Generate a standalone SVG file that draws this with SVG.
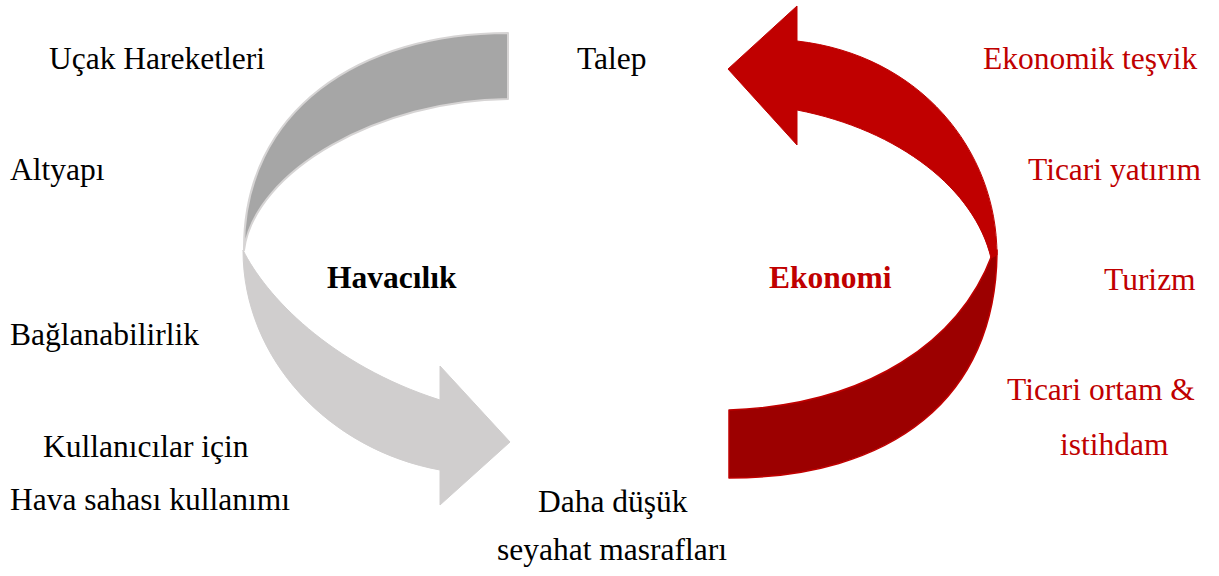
<svg xmlns="http://www.w3.org/2000/svg" width="1219" height="576" viewBox="0 0 1219 576">
  <style>
    text { font-family: "Liberation Serif", "Times New Roman", serif; font-size: 31.5px; }
    .dark { fill: #000000; }
    .red { fill: #c00000; }
    .title { font-weight: bold; }
    .gray-top { fill: #a6a6a6; stroke: #d6d4d4; stroke-width: 2; stroke-linejoin: round; }
    .gray-bottom { fill: #d0cece; stroke: #d0cece; stroke-width: 1; }
    .red-top { fill: #c00000; stroke: #c00000; stroke-width: 1; }
    .red-bottom { fill: #9c0000; stroke: #c00000; stroke-width: 1.5; stroke-linejoin: round; }
  </style>
  <rect width="1219" height="576" fill="#ffffff"/>

  <!-- Circular ribbon arrows of the cycle -->
  <g id="connectors">
    <!-- Aviation loop: lower band with arrowhead pointing right -->
    <path class="gray-bottom" d="M243,250 C265,295 330,365 440,400 L440,366 L510,442 L440,505 L440,470 C330,450 243,360 243,250 Z"/>
    <!-- Aviation loop: upper band with flat tail -->
    <path class="gray-top" d="M508,33 L508,99 C380,100 255,170 244,250 C243,110 360,33 508,33 Z"/>
    <!-- Economy loop: lower band with flat tail -->
    <path class="red-bottom" d="M992,255 C960,340 870,405 729,410 L729,478 C890,478 997,400 997,250 Z"/>
    <!-- Economy loop: upper band with arrowhead pointing left -->
    <path class="red-top" d="M997,255 C997,150 920,55 797,41 L797,6 L728,69 L797,145 L797,110 C900,130 975,190 991,258 Z"/>
  </g>

  <g id="node-havacilik">
    <text class="dark title" x="327" y="288">Havacılık</text>
  </g>
  <g id="node-ekonomi">
    <text class="red title" x="769" y="288">Ekonomi</text>
  </g>

  <g id="node-talep">
    <text class="dark" x="577" y="69">Talep</text>
  </g>
  <g id="node-masraf">
    <text class="dark" x="538" y="512">Daha düşük</text>
    <text class="dark" x="497" y="560">seyahat masrafları</text>
  </g>

  <g id="node-ucak">
    <text class="dark" x="49" y="69">Uçak Hareketleri</text>
  </g>
  <g id="node-altyapi">
    <text class="dark" x="10" y="180">Altyapı</text>
  </g>
  <g id="node-baglanabilirlik">
    <text class="dark" x="10" y="345">Bağlanabilirlik</text>
  </g>
  <g id="node-hava-sahasi">
    <text class="dark" x="43" y="457">Kullanıcılar için</text>
    <text class="dark" x="10" y="510">Hava sahası kullanımı</text>
  </g>

  <g id="node-tesvik">
    <text class="red" x="983" y="69">Ekonomik teşvik</text>
  </g>
  <g id="node-yatirim">
    <text class="red" x="1028" y="180">Ticari yatırım</text>
  </g>
  <g id="node-turizm">
    <text class="red" x="1104" y="290">Turizm</text>
  </g>
  <g id="node-istihdam">
    <text class="red" x="1007" y="400">Ticari ortam &amp;</text>
    <text class="red" x="1060" y="455">istihdam</text>
  </g>
</svg>
